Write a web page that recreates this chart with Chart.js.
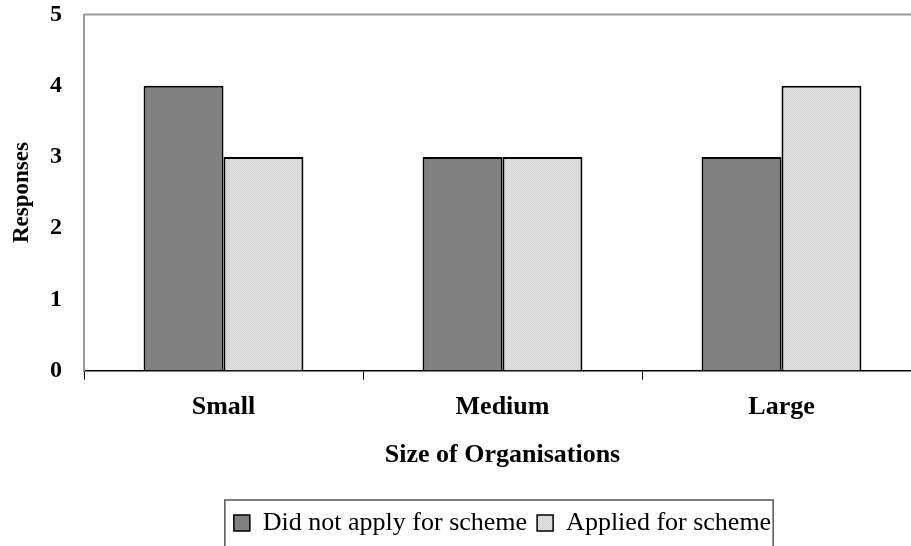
<!DOCTYPE html>
<html>
<head>
<meta charset="utf-8">
<script src="https://cdn.jsdelivr.net/npm/chart.js@4"></script>
<style>
  html, body { margin: 0; padding: 0; background: #fff; overflow: hidden; }
  #wrap { width: 942px; height: 546px; }
</style>
</head>
<body>
<div id="wrap"><canvas id="c" width="942" height="546"></canvas></div>
<script>
const categories = ['Small', 'Medium', 'Large'];
const didNotApply = [4, 3, 3];
const applied = [3, 3, 4];
const yTicks = [0, 1, 2, 3, 4, 5];

const serif = "'Liberation Serif', 'Times New Roman', Times, serif";
const ctx = document.getElementById('c').getContext('2d');

// dotted light grey fill like the original
function dotPattern() {
  const p = document.createElement('canvas');
  p.width = 2; p.height = 2;
  const g = p.getContext('2d');
  g.fillStyle = '#e4e4e4';
  g.fillRect(0, 0, 2, 2);
  g.fillStyle = '#d2d2d2';
  g.fillRect(0, 0, 1, 1);
  g.fillRect(1, 1, 1, 1);
  return ctx.createPattern(p, 'repeat');
}
const lightFill = dotPattern();

const frame = {
  id: 'frame',
  afterLayout(chart) {
    // legend sits a bit right of the canvas centre in the original
    chart.legend.left += 38;
    chart.legend.right += 38;
  },
  afterDraw(chart) {
    const a = chart.chartArea;
    const c = chart.ctx;
    c.save();
    c.strokeStyle = '#999';
    c.lineWidth = 2;
    c.beginPath();
    c.moveTo(a.left, a.top);
    c.lineTo(a.right, a.top);
    c.lineTo(a.right, a.bottom);
    c.stroke();
    // legend border round the items only
    const boxes = chart.legend.legendHitBoxes;
    const x0 = Math.min(...boxes.map(b => b.left)) - 9;
    const x1 = Math.max(...boxes.map(b => b.left + b.width)) + 2;
    const y0 = Math.min(...boxes.map(b => b.top)) - 10;
    c.strokeStyle = '#555';
    c.lineWidth = 1.5;
    c.strokeRect(x0, y0, x1 - x0, 80);
    c.restore();
  }
};

new Chart(ctx, {
  type: 'bar',
  data: {
    labels: categories,
    datasets: [
      {
        label: 'Did not apply for scheme',
        data: didNotApply,
        backgroundColor: '#808080',
        borderColor: '#000',
        borderWidth: 2,
      },
      {
        label: 'Applied for scheme',
        data: applied,
        backgroundColor: lightFill,
        borderColor: '#000',
        borderWidth: 2,
      },
    ],
  },
  options: {
    responsive: false,
    animation: false,
    layout: { padding: { top: 0, left: 8, right: 21, bottom: 0 } },
    datasets: { bar: { barPercentage: 1, categoryPercentage: 0.573 } },
    scales: {
      x: {
        grid: { display: true, drawOnChartArea: false, drawTicks: true, tickLength: 9, color: '#000', offset: true },
        border: { color: '#000', width: 1.5 },
        ticks: {
          color: '#000',
          padding: 12,
          font: { family: serif, size: 26, weight: 'bold' },
        },
        title: {
          display: true,
          text: 'Size of Organisations',
          color: '#000',
          padding: { top: 5, bottom: 29 },
          font: { family: serif, size: 26, weight: 'bold' },
        },
      },
      y: {
        min: 0,
        max: 5,
        afterBuildTicks(axis) { axis.ticks = yTicks.map(v => ({ value: v })); },
        grid: { display: false, drawTicks: true, tickLength: 7.6 },
        border: { color: '#999', width: 2 },
        ticks: {
          color: '#000',
          padding: 14.4,
          font: { family: serif, size: 24, weight: 'bold', lineHeight: 0.01 },
        },
        title: {
          display: true,
          text: 'Responses',
          color: '#000',
          padding: { top: 0, bottom: 0 },
          font: { family: serif, size: 23, weight: 'bold' },
        },
      },
    },
    plugins: {
      tooltip: { enabled: false },
      legend: {
        position: 'bottom',
        labels: {
          color: '#000',
          boxWidth: 16,
          boxHeight: 16,
          padding: 10,
          font: { family: serif, size: 26 },
          generateLabels(chart) {
            return chart.data.datasets.map((d, i) => ({
              text: d.label,
              fillStyle: d.backgroundColor,
              strokeStyle: '#000',
              lineWidth: 1.5,
              datasetIndex: i,
              fontColor: '#000',
            }));
          },
        },
      },
    },
  },
  plugins: [frame],
});
</script>
</body>
</html>
